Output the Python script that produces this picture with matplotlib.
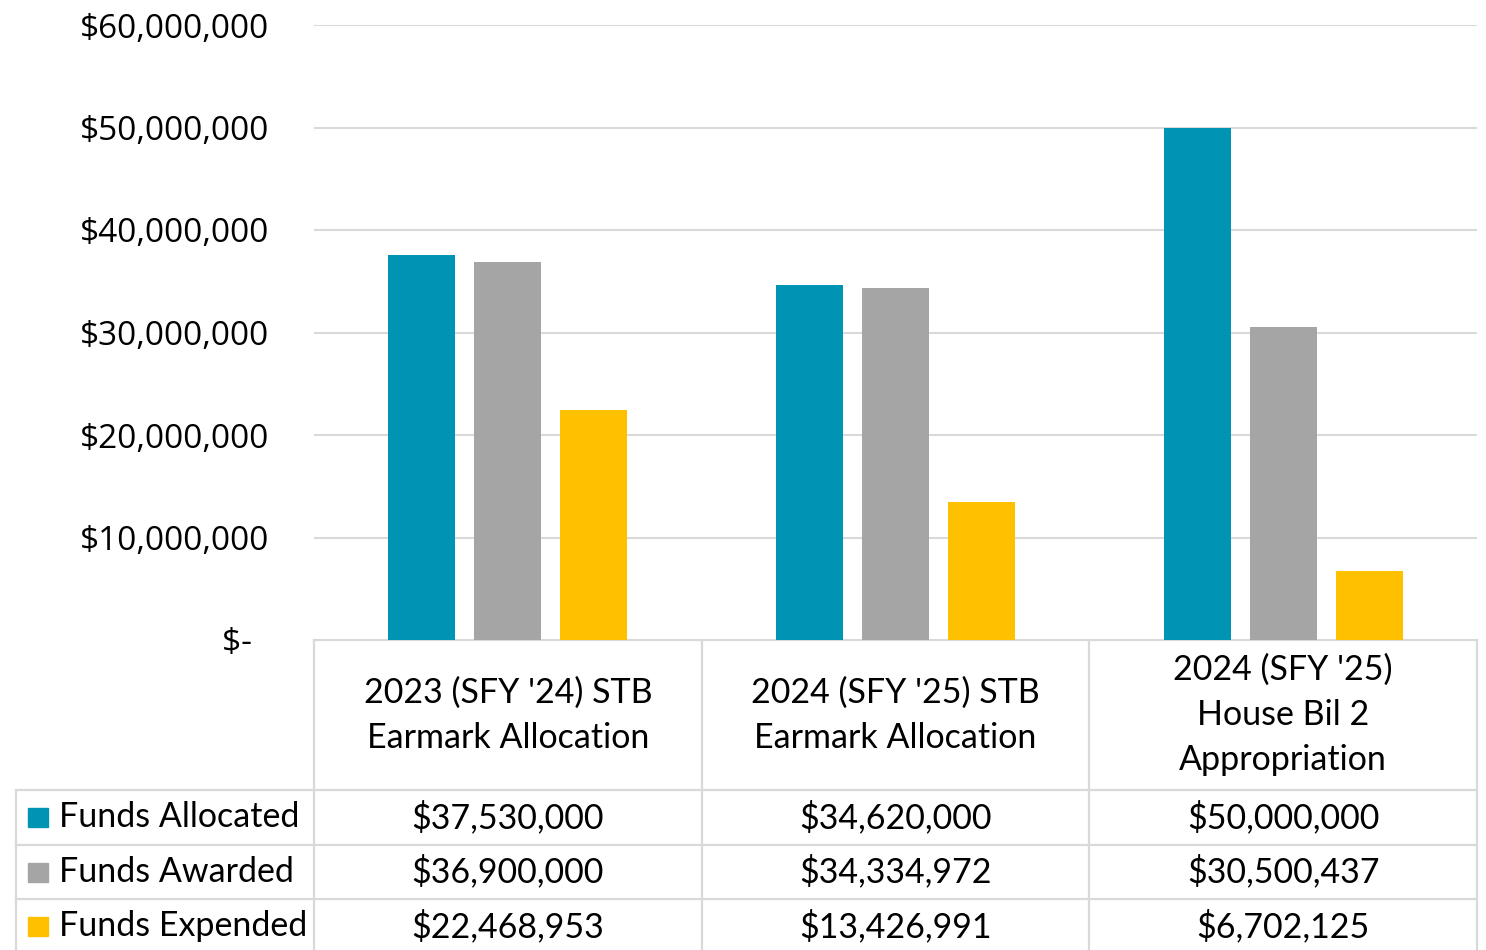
import matplotlib
matplotlib.use("Agg")
import matplotlib.pyplot as plt
import numpy as np

# chart data
categories = ["2023 (SFY '24) STB\nEarmark Allocation",
              "2024 (SFY '25) STB\nEarmark Allocation",
              "2024 (SFY '25)\nHouse Bil 2\nAppropriation"]
series_names = ["Funds Allocated", "Funds Awarded", "Funds Expended"]
funds_allocated = [37530000, 34620000, 50000000]
funds_awarded = [36900000, 34334972, 30500437]
funds_expended = [22468953, 13426991, 6702125]
y_ticks = [0, 10000000, 20000000, 30000000, 40000000, 50000000, 60000000]

colors = ["#0094B4", "#A5A5A5", "#FFC000"]
grid_col = "#D9D9D9"
series = [funds_allocated, funds_awarded, funds_expended]

W, H = 1486, 950
fig = plt.figure(figsize=(W / 100, H / 100), dpi=100)

# pixel layout of the plot area
left, right, top, base = 314, 1477, 25, 640
ax = fig.add_axes([left / W, (H - base) / H, (right - left) / W, (base - top) / H])

x = np.arange(len(categories))
offset = 0.222
width = 0.173
for i, vals in enumerate(series):
    ax.bar(x + (i - 1) * offset, vals, width=width, color=colors[i], zorder=3)

ax.set_xlim(-0.5, len(categories) - 0.5)
ax.set_ylim(0, 60000000)
ax.set_yticks(y_ticks)
ylabels = ["$-  "] + ["${:,.0f}".format(v) for v in y_ticks[1:]]
ax.set_yticklabels(ylabels, fontfamily="Open Sans", fontsize=24)
ax.tick_params(axis="y", length=0, pad=32)
ax.set_xticks([])
ax.grid(axis="y", color=grid_col, linewidth=1.5, zorder=0)
for s in ax.spines.values():
    s.set_visible(False)

# data table drawn in pixel coordinates
tab = fig.add_axes([0, 0, 1, 1], zorder=-1)
tab.set_xlim(0, W)
tab.set_ylim(H, 0)
tab.axis("off")

col_edges = np.linspace(left, right, len(categories) + 1)
header_bottom = 790
row_h = 54.5
row_edges = [header_bottom + k * row_h for k in range(len(series) + 1)]
lw = 1.6
tfont = dict(fontfamily="Lato", fontsize=24.5, color="black")

# header row
tab.plot([left, right], [base, base], color=grid_col, lw=lw)
for cx in col_edges:
    tab.plot([cx, cx], [base, row_edges[-1] + 5], color=grid_col, lw=lw)
# body rows
for ry in row_edges:
    tab.plot([16, right], [ry, ry], color=grid_col, lw=lw)
tab.plot([16, 16], [header_bottom, row_edges[-1] + 5], color=grid_col, lw=lw)

for j, cat in enumerate(categories):
    cx = (col_edges[j] + col_edges[j + 1]) / 2
    tab.text(cx, (base + header_bottom) / 2, cat, ha="center", va="center",
             linespacing=1.5, **tfont)

for i, name in enumerate(series_names):
    cy = (row_edges[i] + row_edges[i + 1]) / 2
    tab.add_patch(plt.Rectangle((28, cy - 9), 20, 19, color=colors[i]))
    tab.text(59, cy, name, ha="left", va="center", **tfont)
    for j, v in enumerate(series[i]):
        cx = (col_edges[j] + col_edges[j + 1]) / 2
        tab.text(cx, cy, "${:,.0f}".format(v), ha="center", va="center", **tfont)

fig.savefig("out.png", dpi=100)
